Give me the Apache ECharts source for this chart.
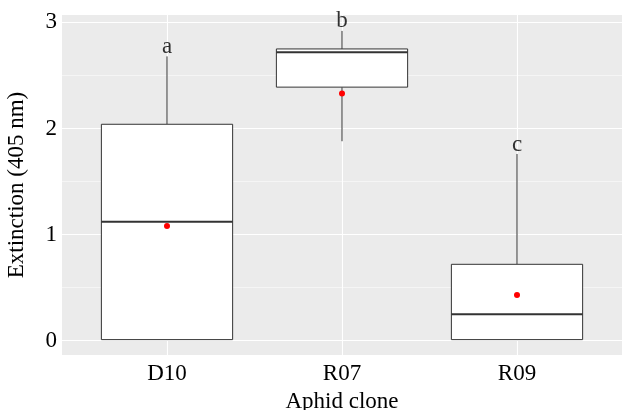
<!DOCTYPE html>
<html>
<head>
<meta charset="utf-8">
<script src="https://cdn.jsdelivr.net/npm/echarts@6/dist/echarts.min.js"></script>
<style>
  html, body { margin: 0; padding: 0; background: #fff; }
  #chart { width: 622px; height: 410px; }
</style>
</head>
<body>
<div id="chart"></div>
<script>
// aphid clones on the x axis
var clones = ['D10', 'R07', 'R09']
// box stats per clone (whisker low, Q1, median, Q3, whisker high)
var whiskerLow = [0.01, 1.88, 0.01]
var q1 = [0.01, 2.39, 0.01]
var median = [1.12, 2.72, 0.25]
var q3 = [2.04, 2.75, 0.72]
var whiskerHigh = [2.68, 2.92, 1.76]
var means = [1.08, 2.33, 0.43]
// significance letters
var letters = ['a', 'b', 'c']
var yTicks = [0, 1, 2, 3]
var yMinor = [0.5, 1.5, 2.5]

var font = "'Liberation Serif', 'Times New Roman', serif"

var boxData = clones.map(function (c, i) {
  return [i, whiskerLow[i], q1[i], median[i], q3[i], whiskerHigh[i]]
})
var meanData = clones.map(function (c, i) { return [i, means[i]] })
var letterData = clones.map(function (c, i) { return [i, whiskerHigh[i]] })

function renderBox(params, api) {
  var x = api.value(0)
  var lo = api.coord([x, api.value(1)])
  var b1 = api.coord([x, api.value(2)])
  var md = api.coord([x, api.value(3)])
  var b3 = api.coord([x, api.value(4)])
  var hi = api.coord([x, api.value(5)])
  var w = api.size([0.75, 0])[0]
  var cx = b1[0]
  var stroke = '#333'
  return {
    type: 'group',
    children: [
      { type: 'line', shape: { x1: cx, y1: hi[1], x2: cx, y2: b3[1] }, style: { stroke: stroke, lineWidth: 1 } },
      { type: 'line', shape: { x1: cx, y1: b1[1], x2: cx, y2: lo[1] }, style: { stroke: stroke, lineWidth: 1 } },
      { type: 'rect', shape: { x: cx - w / 2, y: b3[1], width: w, height: b1[1] - b3[1] }, style: { fill: '#fff', stroke: stroke, lineWidth: 1 } },
      { type: 'line', shape: { x1: cx - w / 2, y1: md[1], x2: cx + w / 2, y2: md[1] }, style: { stroke: stroke, lineWidth: 2 } }
    ]
  }
}

var gridLines = []
yTicks.forEach(function (v) { gridLines.push({ yAxis: v, lineStyle: { width: 1.1 } }) })
yMinor.forEach(function (v) { gridLines.push({ yAxis: v, lineStyle: { width: 0.5 } }) })
clones.forEach(function (c, i) { gridLines.push({ xAxis: i, lineStyle: { width: 1.1 } }) })

var chart = echarts.init(document.getElementById('chart'))
chart.setOption({
  animation: false,
  grid: {
    left: 62, top: 15, right: 0, height: 340,
    outerBoundsMode: 'none',
    containLabel: false,
    show: true, backgroundColor: '#EBEBEB', borderWidth: 0
  },
  xAxis: {
    type: 'value',
    min: -0.6,
    max: 2.6,
    name: 'Aphid clone',
    nameLocation: 'middle',
    nameGap: 35,
    nameTextStyle: { fontFamily: font, fontSize: 23, color: '#000' },
    axisLine: { show: false },
    axisTick: { show: true, customValues: [0, 1, 2], length: 3, lineStyle: { color: '#333' } },
    axisLabel: {
      customValues: [0, 1, 2],
      formatter: function (v) { return clones[v] },
      fontFamily: font, fontSize: 23, color: '#000', margin: 7
    },
    splitLine: { show: false }
  },
  yAxis: {
    type: 'value',
    min: -0.135,
    max: 3.07,
    name: 'Extinction (405 nm)',
    nameLocation: 'middle',
    nameGap: 34,
    nameTextStyle: { fontFamily: font, fontSize: 23, color: '#000' },
    axisLine: { show: false },
    axisTick: { show: true, customValues: yTicks, length: 3, lineStyle: { color: '#333' } },
    axisLabel: { customValues: yTicks, fontFamily: font, fontSize: 23, color: '#000', margin: 5 },
    splitLine: { show: false }
  },
  series: [
    {
      type: 'scatter',
      data: [],
      silent: true,
      markLine: {
        z: 1,
        silent: true,
        symbol: 'none',
        label: { show: false },
        lineStyle: { color: '#fff', type: 'solid' },
        data: gridLines
      }
    },
    {
      type: 'custom',
      z: 3,
      renderItem: renderBox,
      encode: { x: 0, y: [1, 2, 3, 4, 5] },
      data: boxData
    },
    {
      type: 'scatter',
      z: 4,
      symbolSize: 6,
      itemStyle: { color: '#FF0000', opacity: 1 },
      data: meanData
    },
    {
      type: 'scatter',
      z: 4,
      symbolSize: 0,
      label: {
        show: true,
        position: 'top',
        distance: -2,
        fontFamily: font,
        fontSize: 23,
        color: '#000',
        formatter: function (p) { return letters[p.dataIndex] }
      },
      data: letterData
    }
  ]
})
</script>
</body>
</html>
